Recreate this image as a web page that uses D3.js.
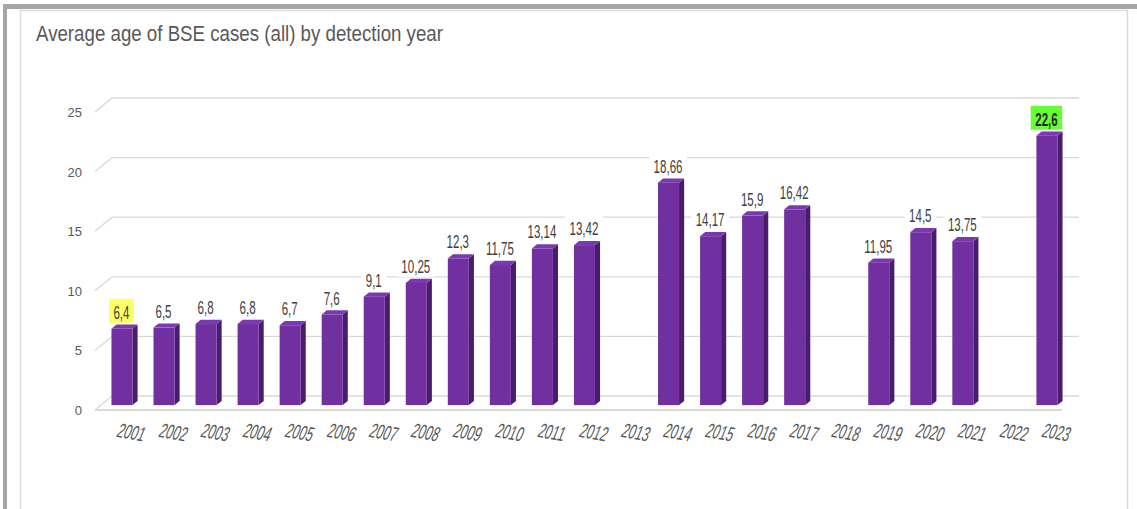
<!DOCTYPE html>
<html>
<head>
<meta charset="utf-8">
<script src="https://cdn.jsdelivr.net/npm/d3@7"></script>
<style>
  html, body { margin: 0; padding: 0; background: #ffffff; }
  svg { display: block; }
</style>
</head>
<body>
<svg id="chart" width="1137" height="509"></svg>
<script>
// Average age of BSE cases by detection year (no cases in 2013, 2018, 2022)
const years = ["2001","2002","2003","2004","2005","2006","2007","2008","2009","2010","2011","2012",
               "2013","2014","2015","2016","2017","2018","2019","2020","2021","2022","2023"];
const averageAge = [6.4, 6.5, 6.8, 6.8, 6.7, 7.6, 9.1, 10.25, 12.3, 11.75, 13.14, 13.42,
                    null, 18.66, 14.17, 15.9, 16.42, null, 11.95, 14.5, 13.75, null, 22.6];
const yTickValues = [0, 5, 10, 15, 20, 25];
const titleText = "Average  age of BSE cases (all) by detection year";

// Styling
const labelFill = { "2001": "#ffff66", "2023": "#66ff33" };
const boldLabel = { "2023": true };
const gridColor = "#d9d9d9";
const textGray = "#595959";
const barFront = "#7030a0", barSide = "#4a1d6c", barTop = "#7c38b0";

const svg = d3.select("#chart");

// Frame
svg.append("rect").attr("x", 3).attr("y", 4).attr("width", 1134).attr("height", 5).attr("fill", "#a6a6a6");
svg.append("rect").attr("x", 3).attr("y", 4).attr("width", 4).attr("height", 505).attr("fill", "#a6a6a6");
svg.append("path").attr("d", "M20.5,509V10.5H1127.5V509")
   .attr("fill", "none").attr("stroke", "#d9d9d9").attr("stroke-width", 1.5);

// Title
svg.append("text").attr("x", 36).attr("y", 41)
   .attr("font-family", "Liberation Sans, Arial, sans-serif").attr("font-size", 22)
   .attr("fill", textGray).attr("textLength", 407).attr("lengthAdjust", "spacingAndGlyphs")
   .text(titleText);

// 3D plot geometry: front plane scales + depth offset
const depthX = 17, depthY = 14;
const x = d3.scaleBand().domain(years).range([95, 1062]).paddingInner(0.5).paddingOuter(0.25);
const y = d3.scaleLinear().domain([0, 25]).range([410, 112]);
const proj = (px, v, d) => [px + depthX * d, y(v) - depthY * d];

const [xL, xR] = x.range();

// Gridlines: diagonal on the side, horizontal on the back wall
const grid = svg.append("g").attr("stroke", gridColor).attr("fill", "none");
yTickValues.forEach(v => {
  const a = proj(xL, v, 0), b = proj(xL, v, 1), c = proj(xR, v, 1);
  grid.append("path").attr("d", `M${a[0]},${a[1]}L${b[0]},${b[1]}L${c[0]},${c[1]}`)
      .attr("stroke-width", 1.3);
});
// Floor front edge
{
  const a = proj(xL, 0, 0), b = proj(xR, 0, 0);
  grid.append("path").attr("d", `M${a[0]},${a[1]}L${b[0]},${b[1]}`).attr("stroke-width", 2);
}

// Y axis labels
const yAxis = d3.axisLeft(y).tickValues(yTickValues).tickSize(0).tickPadding(0);
const yg = svg.append("g").attr("transform", "translate(82,0)").call(yAxis);
yg.select(".domain").remove();
yg.selectAll("text").attr("font-family", "Liberation Sans, Arial, sans-serif")
  .attr("font-size", 13).attr("fill", textGray).attr("dy", "0.35em");

// Bars (front face, side face, top face)
const d0 = 0.35, d1 = 0.65;
const data = years.map((yr, i) => ({ year: yr, value: averageAge[i] })).filter(d => d.value !== null);
const bars = svg.append("g");
data.forEach(d => {
  const x0 = x(d.year), x1 = x(d.year) + x.bandwidth();
  const fbl = proj(x0, 0, d0), fbr = proj(x1, 0, d0), ftl = proj(x0, d.value, d0), ftr = proj(x1, d.value, d0);
  const bbr = proj(x1, 0, d1), btr = proj(x1, d.value, d1), btl = proj(x0, d.value, d1);
  bars.append("path").attr("fill", barSide)
      .attr("d", `M${fbr}L${bbr}L${btr}L${ftr}Z`);
  bars.append("path").attr("fill", barTop)
      .attr("d", `M${ftl}L${ftr}L${btr}L${btl}Z`);
  bars.append("rect").attr("fill", barFront)
      .attr("x", ftl[0]).attr("y", ftl[1]).attr("width", x.bandwidth()).attr("height", fbl[1] - ftl[1]);
});

// Value labels
const fmt = v => String(v).replace(".", ",");
const labelScale = 0.64;
const labels = svg.append("g");
data.forEach(d => {
  const top = proj(x(d.year) + x.bandwidth() / 2, d.value, d0);
  const cx = top[0] - 0.5;
  const boxBottom = top[1] - 6;
  const g = labels.append("g");
  const rect = g.append("rect");
  const t = g.append("text")
     .attr("transform", `translate(${cx},${boxBottom - 4}) scale(${labelScale},1)`)
     .attr("text-anchor", "middle")
     .attr("font-family", "Liberation Sans, Arial, sans-serif")
     .attr("font-size", 18)
     .attr("font-weight", boldLabel[d.year] ? "bold" : "normal")
     .attr("fill", boldLabel[d.year] ? "#262626" : "#404040")
     .text(fmt(d.value));
  const w = t.node().getComputedTextLength() * labelScale + 9;
  rect.attr("x", cx - w / 2).attr("y", boxBottom - 24).attr("width", w).attr("height", 24)
      .attr("fill", labelFill[d.year] || "#ffffff");
});

// X axis labels, slanted
const xl = svg.append("g");
years.forEach(yr => {
  const cx = x(yr) + x.bandwidth() / 2 + depthX * d0 + 7;
  xl.append("text")
    .attr("transform", `translate(${cx},439) rotate(10) skewX(-12) scale(0.6,1)`)
    .attr("text-anchor", "middle")
    .attr("font-family", "Liberation Sans, Arial, sans-serif")
    .attr("font-size", 20.5)
    .attr("fill", textGray)
    .text(yr);
});
</script>
</body>
</html>
